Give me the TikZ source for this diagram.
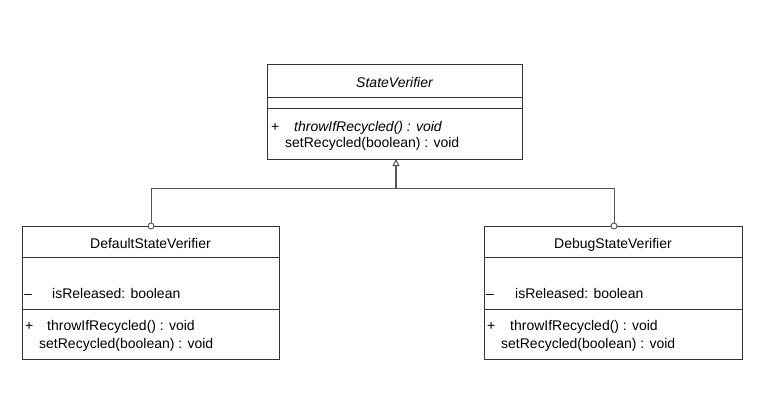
\documentclass[tikz,border=0pt]{standalone}
\usepackage{fontspec}
\setmainfont{Liberation Sans}
\usetikzlibrary{arrows.meta}
\definecolor{edge}{HTML}{333333}
\definecolor{wire}{HTML}{555555}
\begin{document}
\begin{tikzpicture}[x=1pt,y=-1pt,
  classbox/.style={draw=edge,line width=1pt,fill=white,inner sep=0pt,outer sep=0pt},
  sepline/.style={draw=edge,line width=1pt},
  txt/.style={inner sep=0pt,anchor=base west,font=\fontsize{14}{16}\selectfont},
  ttl/.style={inner sep=0pt,anchor=base,font=\fontsize{14}{16}\selectfont},
  wireline/.style={draw=wire,line width=1pt},
  knob/.style={draw=wire,line width=0.9pt,fill=white,circle,minimum size=6pt,inner sep=0pt}]
\useasboundingbox (0,0) rectangle (764,402);
% boxes
\node[classbox,minimum width=255pt,minimum height=95pt] (base) at (394.5,111.5) {};
\node[classbox,minimum width=257pt,minimum height=133pt] (lft) at (150.5,292.5) {};
\node[classbox,minimum width=258pt,minimum height=133pt] (rgt) at (613,292.5) {};
% separators
\draw[sepline] (267,97) -- (522,97);
\draw[sepline] (267,108) -- (522,108);
\draw[sepline] (22,257) -- (279,257);
\draw[sepline] (22,309) -- (279,309);
\draw[sepline] (484,257) -- (742,257);
\draw[sepline] (484,309) -- (742,309);
% texts top
\node[ttl] (t1) at (394.5,87) {\itshape StateVerifier};
\node[txt] (t2) at (271,131) {+};
\node[txt] (t3) at (294,131) {\itshape throwIfRecycled() : void};
\node[txt] (t4) at (285,147) {setRecycled(boolean) : void};
% texts left
\node[ttl] (l1) at (150.5,248) {DefaultStateVerifier};
\node[txt] (l2) at (24,298) {–};
\node[txt] (l3) at (52,298) {isReleased: boolean};
\node[txt] (l4) at (25,330) {+};
\node[txt] (l5) at (47,330) {throwIfRecycled() : void};
\node[txt] (l6) at (39,348) {setRecycled(boolean) : void};
% texts right
\node[ttl] (r1) at (613,248) {DebugStateVerifier};
\node[txt] (r2) at (486,298) {–};
\node[txt] (r3) at (515,298) {isReleased: boolean};
\node[txt] (r4) at (487,330) {+};
\node[txt] (r5) at (510,330) {throwIfRecycled() : void};
\node[txt] (r6) at (501,348) {setRecycled(boolean) : void};
% connectors
\coordinate (j) at (396,188);
\coordinate (lc) at (151,226);
\coordinate (rc) at (614,226);
\coordinate (tip) at (396,159);
\draw[wireline] (lc) |- (j);
\draw[wireline] (rc) |- (j);
\draw[draw=wire,line width=1.8pt,-{Triangle[open,width=7pt,length=7pt,line width=1pt]}] (j) -- (tip);
\node[knob] (kl) at (lc) {};
\node[knob] (kr) at (rc) {};
\end{tikzpicture}
\end{document}
